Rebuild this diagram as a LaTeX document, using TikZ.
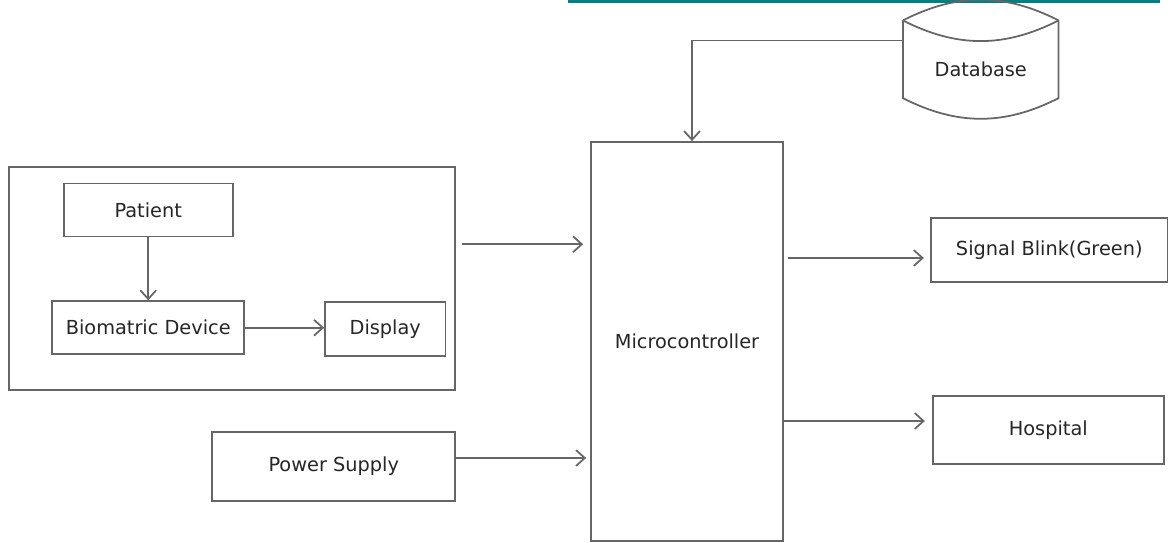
\documentclass[tikz,border=0pt]{standalone}
\usepackage{fontspec}
\setmainfont{DejaVu Sans}
\usepackage{tikz}
\usetikzlibrary{arrows.meta, positioning, calc}
\usepackage{xcolor}

\begin{document}
\begin{tikzpicture}[
    auto,
    box/.style = {rectangle, draw=black!60, line width=1pt, fill=white, align=center, text=black!85, font=\fontsize{11}{13}\selectfont},
    group/.style = {rectangle, draw=black!60, line width=1pt, minimum width=8.92cm, minimum height=4.46cm},
    dbnode/.style = {rectangle, minimum width=3.1cm, minimum height=1.14cm, text=black!85, font=\fontsize{11}{13}\selectfont},
    line/.style = {draw=black!60, line width=1pt},
    arr/.style = {line, -{Straight Barb[length=5pt, width=9pt]}}
]
    \useasboundingbox (0,0) rectangle (23.36,-10.86);

    % top strip (cut off)
    \fill[teal] (11.36,0) rectangle (23.2,-0.06);

    % 1. Microcontroller
    \node [box, minimum width=3.84cm, minimum height=7.98cm] (micro) at (13.74,-6.83) {Microcontroller};

    % 2. Outputs
    \node [box, minimum width=4.74cm, minimum height=1.28cm, right=2.92cm of micro, yshift=1.83cm] (sig) {Signal Blink(Green)};
    \node [box, minimum width=4.62cm, minimum height=1.36cm, right=2.96cm of micro, yshift=-1.77cm] (hosp) {Hospital};

    % 3. Power Supply
    \node [box, minimum width=4.86cm, minimum height=1.38cm, left=2.68cm of micro, yshift=-2.5cm] (power) {Power Supply};

    % 4. Patient group
    \node [group, above=0.8cm of power.north east, anchor=south east] (grp) {};
    \node [box, minimum width=3.84cm, minimum height=1.06cm, anchor=south west] (bio) at ([xshift=0.86cm, yshift=0.72cm]grp.south west) {Biomatric Device};
    \node [box, minimum width=3.38cm, minimum height=1.06cm, above=1.26cm of bio] (patient) {Patient};
    \node [box, minimum width=2.41cm, minimum height=1.08cm, right=1.58cm of bio, yshift=-0.03cm] (display) {Display};

    % 5. Database (drawn by hand)
    \node [dbnode, above right=0.86cm and 2.38cm of micro.north east, anchor=south west] (db) {Database};
    \draw [line] ([yshift=0.4cm]db.north west) coordinate (dbtl) -- (db.south west)
        to[bend right=27] (db.south east) -- ([yshift=0.4cm]db.north east) coordinate (dbtr);
    \draw [line] (dbtl) to[bend left=27] (dbtr);
    \draw [line] (dbtl) to[bend right=27] (dbtr);

    % 6. Connections
    \draw [arr] (patient.south) -- (bio.north);
    \draw [arr] (bio.east) -- (bio.east -| display.west);
    \draw [arr, shorten <=0.12cm, shorten >=0.14cm] ([yshift=0.69cm]grp.east) -- ([yshift=0.69cm]grp.east -| micro.west);
    \draw [arr, shorten >=0.08cm] ([yshift=0.17cm]power.east) -- ([yshift=0.17cm]power.east -| micro.west);
    \draw [arr] (db.north west) -| ([xshift=0.1cm]micro.north);
    \draw [arr, shorten <=0.08cm, shorten >=0.12cm] ([yshift=-0.16cm]sig.west -| micro.east) -- ([yshift=-0.16cm]sig.west);
    \draw [arr, shorten >=0.14cm] ([yshift=0.18cm]hosp.west -| micro.east) -- ([yshift=0.18cm]hosp.west);
\end{tikzpicture}
\end{document}
